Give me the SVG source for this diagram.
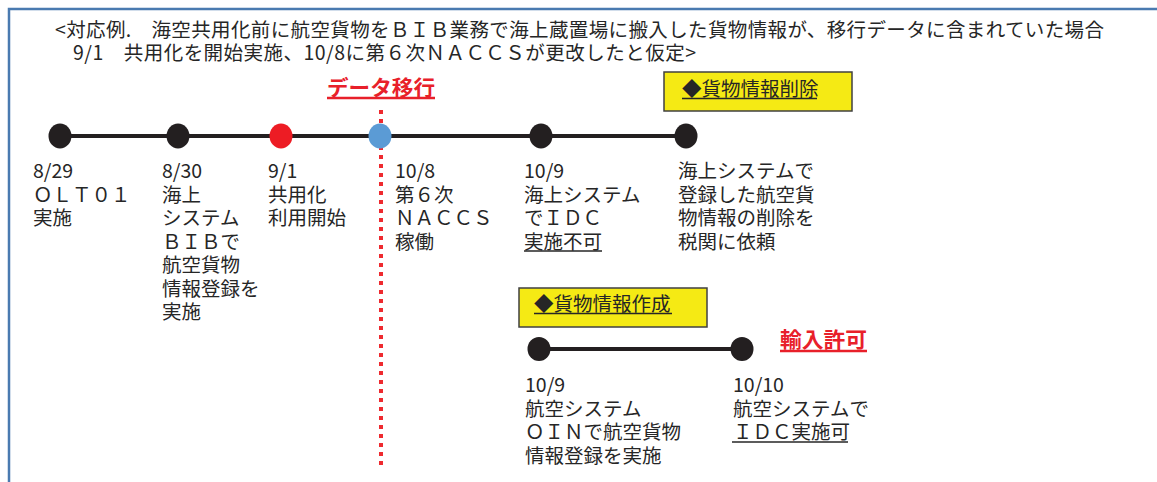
<svg xmlns="http://www.w3.org/2000/svg" width="1157" height="482" viewBox="0 0 1157 482">
<style>
.t{font-family:"Noto Sans CJK JP","Noto Sans",sans-serif;font-size:19.5px;fill:#262626}
.r{font-family:"Noto Sans CJK JP","Noto Sans",sans-serif;font-size:21px;font-weight:bold;fill:#e8202a}
.ul{stroke:#262626;stroke-width:1.3}
.rul{stroke:#e8202a;stroke-width:2.5}
.line{stroke:#231f20;stroke-width:4;fill:none}
.dot{fill:#231f20}
.box{fill:#f5ea14;stroke:#404040;stroke-width:1.5}
</style>
<rect width="1157" height="482" fill="#ffffff"/>
<g id="frame">
<path d="M9,482 V9 H1157" fill="none" stroke="#4a7ab0" stroke-width="2.5"/>
</g>
<g id="header">
<text class="t" x="55" y="37" textLength="1049" lengthAdjust="spacing">&lt;対応例.　海空共用化前に航空貨物をＢＩＢ業務で海上蔵置場に搬入した貨物情報が、移行データに含まれていた場合</text>
<text class="t" x="73" y="60" textLength="623" lengthAdjust="spacing">9/1　共用化を開始実施、10/8に第６次ＮＡＣＣＳが更改したと仮定&gt;</text>
</g>
<g id="migration">
<line x1="381" y1="110" x2="381" y2="466" stroke="#ee2a2f" stroke-width="4" stroke-dasharray="4 5"/>
<text class="r" x="327" y="95" textLength="108" lengthAdjust="spacingAndGlyphs">データ移行</text>
<line class="rul" x1="327" y1="98" x2="435" y2="98"/>
</g>
<g id="connectors">
<line class="line" x1="60" y1="136" x2="686" y2="136"/>
<line class="line" x1="539" y1="349" x2="742" y2="349"/>
</g>
<g id="n1">
<ellipse class="dot" cx="60" cy="136" rx="11.5" ry="12.5"/>
<text class="t" x="33" y="178">8/29</text>
<text class="t" x="33" y="201.5">ＯＬＴ０１</text>
<text class="t" x="33" y="225">実施</text>
</g>
<g id="n2">
<ellipse class="dot" cx="178" cy="136" rx="11.5" ry="12.5"/>
<text class="t" x="162" y="178">8/30</text>
<text class="t" x="162" y="201.5">海上</text>
<text class="t" x="162" y="225">システム</text>
<text class="t" x="162" y="248.5">ＢＩＢで</text>
<text class="t" x="162" y="272">航空貨物</text>
<text class="t" x="162" y="295.5">情報登録を</text>
<text class="t" x="162" y="319">実施</text>
</g>
<g id="n3">
<ellipse cx="281" cy="136" rx="11.5" ry="12.5" fill="#ed1c24"/>
<text class="t" x="268" y="178">9/1</text>
<text class="t" x="268" y="201.5">共用化</text>
<text class="t" x="268" y="225">利用開始</text>
</g>
<g id="n4">
<ellipse cx="380" cy="136" rx="11.5" ry="12.5" fill="#5b9bd5"/>
<text class="t" x="395" y="178">10/8</text>
<text class="t" x="395" y="201.5">第６次</text>
<text class="t" x="395" y="225">ＮＡＣＣＳ</text>
<text class="t" x="395" y="248.5">稼働</text>
</g>
<g id="n5">
<ellipse class="dot" cx="541" cy="136" rx="11.5" ry="12.5"/>
<text class="t" x="524" y="178">10/9</text>
<text class="t" x="524" y="201.5">海上システム</text>
<text class="t" x="524" y="225">でＩＤＣ</text>
<text class="t" x="524" y="248.5">実施不可</text>
<line class="ul" x1="524" y1="251" x2="602" y2="251"/>
</g>
<g id="n6">
<ellipse class="dot" cx="686" cy="136" rx="11.5" ry="12.5"/>
<text class="t" x="678" y="178">海上システムで</text>
<text class="t" x="678" y="201.5">登録した航空貨</text>
<text class="t" x="678" y="225">物情報の削除を</text>
<text class="t" x="678" y="248.5">税関に依頼</text>
</g>
<g id="box-delete">
<rect class="box" x="664" y="72" width="188" height="39"/>
<text class="t" x="682" y="96" fill="#1a1a1a">◆貨物情報削除</text>
<line class="ul" x1="682" y1="98.5" x2="817" y2="98.5"/>
</g>
<g id="box-create">
<rect class="box" x="519" y="288" width="188" height="39"/>
<text class="t" x="534" y="311">◆貨物情報作成</text>
<line class="ul" x1="534" y1="313.5" x2="672" y2="313.5"/>
</g>
<g id="n7">
<ellipse class="dot" cx="539" cy="349" rx="11.5" ry="12"/>
<text class="t" x="525" y="392">10/9</text>
<text class="t" x="525" y="415.5">航空システム</text>
<text class="t" x="525" y="439">ＯＩＮで航空貨物</text>
<text class="t" x="525" y="462.5">情報登録を実施</text>
</g>
<g id="n8">
<ellipse class="dot" cx="742" cy="349" rx="11.5" ry="12"/>
<text class="t" x="733" y="392">10/10</text>
<text class="t" x="733" y="415.5">航空システムで</text>
<text class="t" x="733" y="439">ＩＤＣ実施可</text>
<line class="ul" x1="732" y1="442" x2="848" y2="442"/>
<text class="r" x="780" y="347" textLength="87" lengthAdjust="spacingAndGlyphs">輸入許可</text>
<line class="rul" x1="780" y1="351" x2="867" y2="351"/>
</g>
</svg>
